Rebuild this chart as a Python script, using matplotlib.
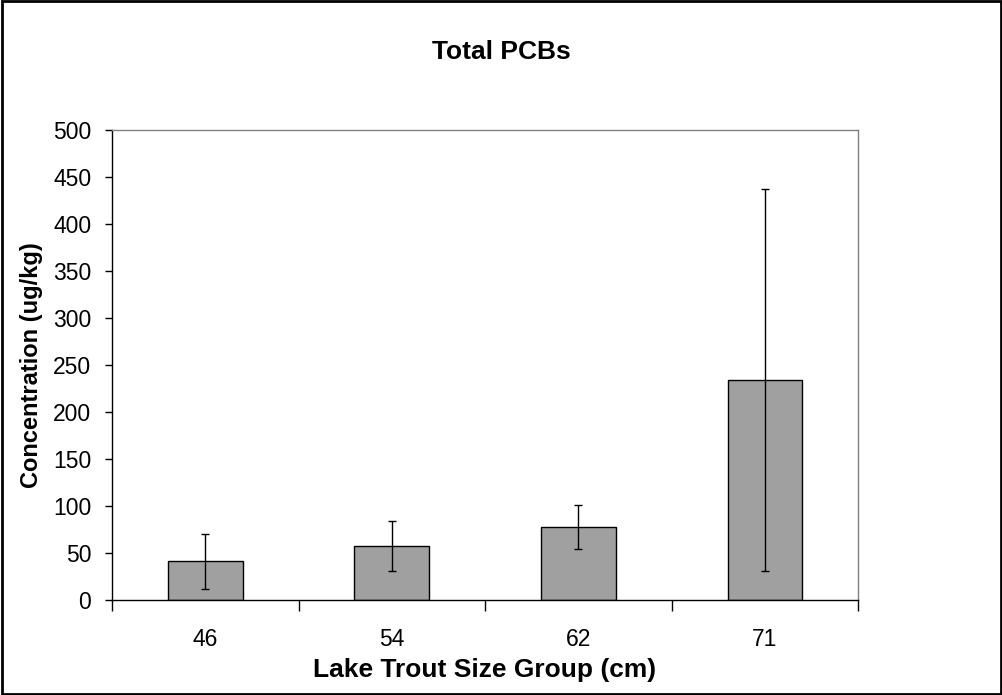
import numpy as np
import matplotlib
matplotlib.use("Agg")
import matplotlib.pyplot as plt
from matplotlib.patches import Rectangle

plt.rcParams['font.family'] = ['Liberation Sans', 'DejaVu Sans']

size_groups = ["46", "54", "62", "71"]
mean_pcb = [41, 57.5, 77.5, 234]
err_pcb = [29.5, 27, 23.5, 203]

fig = plt.figure(figsize=(10.03, 6.95), dpi=100)
ax = fig.add_axes([0.1117, 0.1367, 0.7438, 0.6763])

x = np.arange(len(size_groups))
ax.bar(x, mean_pcb, width=0.4, color="#a0a0a0", edgecolor="black", linewidth=1, zorder=2)
ax.errorbar(x, mean_pcb, yerr=err_pcb, fmt="none", ecolor="black",
            elinewidth=1, capsize=3, capthick=1, zorder=3)

ax.set_xlim(-0.5, len(size_groups) - 0.5)
ax.set_ylim(0, 500)
ax.set_yticks(np.arange(0, 501, 50))
ax.set_xticks(x)
ax.set_xticklabels(size_groups)
ax.set_xticks(np.arange(-0.5, len(size_groups)), minor=True)
ax.tick_params(axis="x", which="major", length=0, labelsize=16.5, pad=20)
ax.tick_params(axis="x", which="minor", length=8, width=1, direction="out")
ax.tick_params(axis="y", length=5, width=1, direction="out", labelsize=16.5, pad=10)

for side in ["left", "bottom"]:
    ax.spines[side].set_color("black")
    ax.spines[side].set_linewidth(1)
for side in ["top", "right"]:
    ax.spines[side].set_color("#808080")
    ax.spines[side].set_linewidth(1)

fig.text(0.5, 1 - 52 / 695, "Total PCBs", fontsize=19, fontweight="bold",
         ha="center", va="center")
ax.set_xlabel("Lake Trout Size Group (cm)", fontsize=19, fontweight="bold", va="center")
ax.xaxis.set_label_coords(0.5, -0.149)
ax.set_ylabel("Concentration (ug/kg)", fontsize=17, fontweight="bold", va="center")
ax.yaxis.set_label_coords(-0.1086, 0.5)

# outer frame around the whole chart
fig.patches.append(Rectangle((0.002, 0.002), 0.996, 0.996, transform=fig.transFigure,
                             fill=False, edgecolor="black", linewidth=2))

fig.savefig("out.png", dpi=100)
